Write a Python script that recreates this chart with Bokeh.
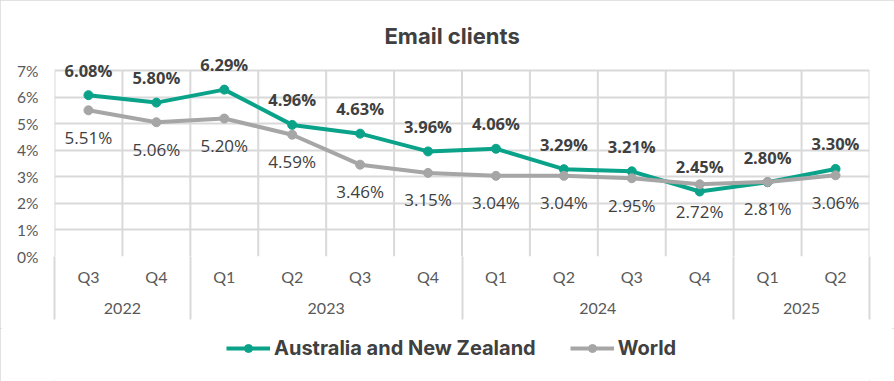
from bokeh.plotting import figure
from bokeh.layouts import column
from bokeh.models import (ColumnDataSource, Range1d, FixedTicker, LinearAxis,
                          PrintfTickFormatter, Legend, LegendItem)
from bokeh.core.properties import value
from bokeh.embed import file_html
from bokeh.resources import INLINE

# ---- data ----
quarters = ["Q3", "Q4", "Q1", "Q2", "Q3", "Q4", "Q1", "Q2", "Q3", "Q4", "Q1", "Q2"]
years = ["2022", "2023", "2024", "2025"]
quarters_per_year = [2, 4, 4, 2]
anz = [6.08, 5.80, 6.29, 4.96, 4.63, 3.96, 4.06, 3.29, 3.21, 2.45, 2.80, 3.30]
world = [5.51, 5.06, 5.20, 4.59, 3.46, 3.15, 3.04, 3.04, 2.95, 2.72, 2.81, 3.06]
y_ticks = [0, 1, 2, 3, 4, 5, 6, 7]
series_names = ["Australia and New Zealand", "World"]

TEAL = "#0AA38A"
GRAY = "#A6A6A6"
TEXT = "#404040"
AXTEXT = "#595959"
GRID = "#D9D9D9"

W = 894
H_MAIN = 328
H_LEG = 53
Y_TOP = 7.5  # headroom so the labels above the 7% line are not clipped

n = len(quarters)
xs = [i + 0.5 for i in range(n)]
cells = list(range(n + 1))

bounds = [0]
for q in quarters_per_year:
    bounds.append(bounds[-1] + q)
year_centers = [(bounds[i] + bounds[i + 1]) / 2 for i in range(len(years))]

src_anz = ColumnDataSource(dict(x=xs, y=anz, lbl=[f"{v:.2f}%" for v in anz]))
src_w = ColumnDataSource(dict(x=xs, y=world, lbl=[f"{v:.2f}%" for v in world]))

p = figure(width=W, height=H_MAIN, output_backend="svg", toolbar_location=None,
           x_range=Range1d(0, n), y_range=Range1d(0, Y_TOP),
           min_border_left=54, min_border_right=25, min_border_top=57,
           min_border_bottom=72)
p.outline_line_color = None
p.background_fill_color = "white"
p.border_fill_color = "white"

# title
p.title.text = "Email clients"
p.title.align = "left"
p.title.offset = 330
p.title.text_font = "Inter"
p.title.text_font_style = "bold"
p.title.text_font_size = "22px"
p.title.text_color = TEXT
p.title.standoff = 17

# grids: horizontal from the y ticks, vertical cell borders from 0% to 7%
p.xgrid.visible = False
p.ygrid.ticker = FixedTicker(ticks=y_ticks)
p.ygrid.grid_line_color = GRID
p.ygrid.grid_line_width = 2
p.segment(x0=cells, y0=[y_ticks[0]] * len(cells), x1=cells, y1=[y_ticks[-1]] * len(cells),
          line_color=GRID, line_width=2)

# y axis
p.yaxis.ticker = FixedTicker(ticks=y_ticks)
p.yaxis.formatter = PrintfTickFormatter(format="%d%%")
p.yaxis.axis_line_color = None
p.yaxis.major_tick_line_color = None
p.yaxis.minor_tick_line_color = None
p.yaxis.major_label_standoff = 10
p.yaxis.major_label_text_font = "Lato"
p.yaxis.major_label_text_font_size = "15.5px"
p.yaxis.major_label_text_color = AXTEXT

# quarter axis
xa = p.xaxis[0]
xa.ticker = FixedTicker(ticks=xs, minor_ticks=bounds)
xa.major_label_overrides = {x: q for x, q in zip(xs, quarters)}
xa.axis_line_color = None
xa.major_tick_line_color = None
xa.major_tick_in = 0
xa.major_tick_out = 0
xa.minor_tick_in = 0
xa.minor_tick_out = 63
xa.minor_tick_line_color = GRID
xa.minor_tick_line_width = 2
xa.major_label_standoff = -53
xa.major_label_text_font = "Lato"
xa.major_label_text_font_size = "16px"
xa.major_label_text_color = AXTEXT

# year axis
ya = LinearAxis(ticker=FixedTicker(ticks=year_centers),
                major_label_overrides={c: y for c, y in zip(year_centers, years)})
ya.axis_line_color = None
ya.major_tick_line_color = None
ya.major_tick_in = 0
ya.major_tick_out = 0
ya.minor_tick_line_color = None
ya.major_label_standoff = 14
ya.major_label_text_font = "Lato"
ya.major_label_text_font_size = "16px"
ya.major_label_text_color = AXTEXT
p.add_layout(ya, "below")

# series
p.line("x", "y", source=src_anz, line_color=TEAL, line_width=4)
p.scatter("x", "y", source=src_anz, size=9, fill_color=TEAL, line_color=TEAL)
p.line("x", "y", source=src_w, line_color=GRAY, line_width=4)
p.scatter("x", "y", source=src_w, size=9, fill_color=GRAY, line_color=GRAY)

# data labels
p.text("x", "y", text="lbl", source=src_anz, y_offset=-25, text_align="center",
       text_baseline="middle", text_font=value("Open Sans"), text_font_style="bold",
       text_font_size="16.5px", text_color=TEXT)
p.text("x", "y", text="lbl", source=src_w, y_offset=27, text_align="center",
       text_baseline="middle", text_font=value("Open Sans"),
       text_font_size="17px", text_color=TEXT)

# legend strip (separate figure below the chart); its renderers share the series
# sources but the view range is set away from the data so only the legend shows
pl = figure(width=W, height=H_LEG, output_backend="svg", toolbar_location=None,
            x_axis_type=None, y_axis_type=None,
            x_range=Range1d(1000, 1001), y_range=Range1d(1000, 1001),
            min_border=0, outline_line_color=None)
pl.grid.visible = False
pl.background_fill_color = "white"
pl.border_fill_color = "white"
l1 = pl.line("x", "y", source=src_anz, line_color=TEAL, line_width=4)
s1 = pl.scatter("x", "y", source=src_anz, size=9, fill_color=TEAL, line_color=TEAL)
l2 = pl.line("x", "y", source=src_w, line_color=GRAY, line_width=4)
s2 = pl.scatter("x", "y", source=src_w, size=9, fill_color=GRAY, line_color=GRAY)
legend = Legend(items=[LegendItem(label=series_names[0], renderers=[l1, s1]),
                       LegendItem(label=series_names[1], renderers=[l2, s2])],
                orientation="horizontal", location=(172, 21), glyph_width=44,
                label_standoff=4, spacing=34, padding=0, margin=0,
                label_text_font="Inter", label_text_font_style="bold",
                label_text_font_size="20px", label_text_color=TEXT,
                border_line_color=None, background_fill_alpha=0)
pl.add_layout(legend)

layout = column(p, pl, spacing=0)
layout.styles = {"outline": "2px solid #D9D9D9", "outline-offset": "-2px"}

open("out.html", "w").write(file_html(layout, INLINE))
